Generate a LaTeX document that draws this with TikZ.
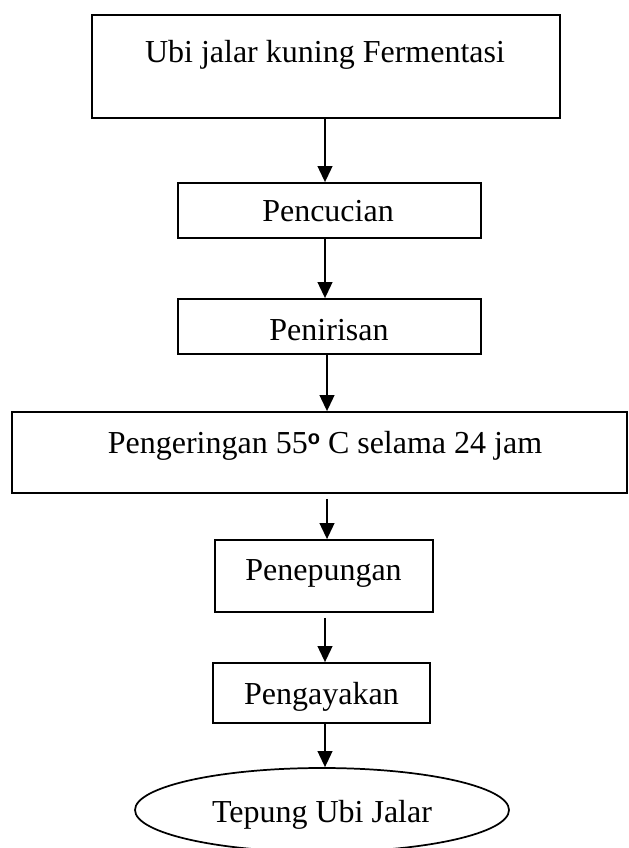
\documentclass[tikz,border=0pt]{standalone}
\usepackage{fontspec}
\setmainfont{Liberation Serif}
\setsansfont{Liberation Sans}
\usetikzlibrary{arrows.meta,shapes.geometric}
\newcommand{\dego}{\raisebox{6.2pt}{\fontsize{15pt}{15pt}\selectfont\sffamily\bfseries o}}
\begin{document}
\begin{tikzpicture}[x=0.75pt,y=-0.75pt,
  boxshape/.style={draw,line width=1.3pt,rectangle,inner sep=0pt},
  ovalshape/.style={draw,line width=1.3pt,ellipse,inner sep=0pt},
  lbl/.style={anchor=base,inner sep=0pt,font=\fontsize{24pt}{28pt}\selectfont},
  flow/.style={line width=1.5pt,-{Triangle[length=12pt,width=11pt]}}]
\useasboundingbox (0,0) rectangle (628,848);
% boxes
\node[boxshape,minimum width=468*0.75pt,minimum height=103*0.75pt] (b1) at (326,66.5) {};
\node[boxshape,minimum width=303*0.75pt,minimum height=55*0.75pt] (b2) at (329.5,210.5) {};
\node[boxshape,minimum width=303*0.75pt,minimum height=55*0.75pt] (b3) at (329.5,326.5) {};
\node[boxshape,minimum width=615*0.75pt,minimum height=81*0.75pt] (b4) at (319.5,452.5) {};
\node[boxshape,minimum width=218*0.75pt,minimum height=72*0.75pt] (b5) at (324,576) {};
\node[boxshape,minimum width=217*0.75pt,minimum height=60*0.75pt] (b6) at (321.5,693) {};
\node[ovalshape,minimum width=374*0.75pt,minimum height=84*0.75pt] (e7) at (322,810) {};
% texts
\node[lbl] (t1) at (325,63) {Ubi jalar kuning Fermentasi};
\node[lbl] (t2) at (328,222) {Pencucian};
\node[lbl] (t3) at (329,340) {Penirisan};
\node[lbl] (t4) at (325,453) {Pengeringan 55\dego{} C selama 24 jam};
\node[lbl] (t5) at (323.5,580) {Penepungan};
\node[lbl] (t6) at (321.5,704) {Pengayakan};
\node[lbl] (t7) at (322,822) {Tepung Ubi Jalar};
% arrow lines
\coordinate (ax) at (325,0);
\coordinate (bx) at (327,0);
\draw[flow] (b1.south -| ax) -- (b2.north -| ax);
\draw[flow] (b2.south -| ax) -- (b3.north -| ax);
\draw[flow] (b3.south -| bx) -- (b4.north -| bx);
\draw[flow,shorten <=5*0.75pt] (b4.south -| bx) -- (b5.north -| bx);
\draw[flow,shorten <=5*0.75pt] (b5.south -| ax) -- (b6.north -| ax);
\draw[flow] (b6.south -| ax) -- (e7.north -| ax);
\end{tikzpicture}
\end{document}
